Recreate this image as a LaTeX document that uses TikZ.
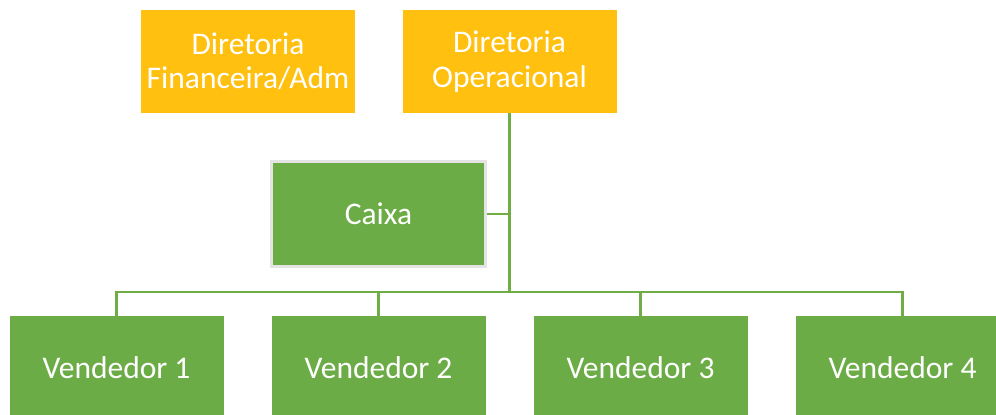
\documentclass[tikz,border=0pt]{standalone}
\usepackage{fontspec}
\setmainfont{Carlito}
\usepackage{xcolor}
\usetikzlibrary{positioning, calc}

\definecolor{diryellow}{HTML}{FFC010}
\definecolor{staffgreen}{HTML}{6CAC46}
\definecolor{linegreen}{HTML}{70AD47}
\definecolor{edgegrey}{HTML}{E4E4E4}

\begin{document}
\begin{tikzpicture}[
    x=1pt, y=-1pt,
    box/.style={rectangle, minimum width=214pt, minimum height=103pt, inner sep=0pt, align=center,
      text=white, font=\fontsize{31.5}{34.5}\selectfont},
    director/.style={box, fill=diryellow},
    staff/.style={box, fill=staffgreen},
    cashier/.style={staff, draw=edgegrey, line width=3pt, minimum width=214pt, minimum height=105pt},
    link/.style={draw=linegreen, line width=2.6pt}
  ]
  \useasboundingbox (0,0) rectangle (996,415);

  % Nodes
  \node[director] (fin) at (248,61.5) {Diretoria\\Financeira/Adm};
  \node[director] (ope) at (509.5,61.5) {Diretoria\\Operacional};
  \node[cashier] (caixa) at (378.5,214) {Caixa};
  \node[staff] (v1) at (116.5,367.5) {Vendedor 1};
  \node[staff] (v2) at (378.5,367.5) {Vendedor 2};
  \node[staff] (v3) at (640.5,367.5) {Vendedor 3};
  \node[staff] (v4) at (902.5,367.5) {Vendedor 4};
  \coordinate (hub) at (509.5,292);

  % Connections
  \draw[link] (ope.south) -- (hub);
  \draw[link] (caixa.east) -- (ope.south |- caixa.east);
  \draw[link] (v1.north) -- (v1.north |- hub) -- (v4.north |- hub) -- (v4.north);
  \draw[link] (v2.north) -- (v2.north |- hub);
  \draw[link] (v3.north) -- (v3.north |- hub);
\end{tikzpicture}
\end{document}
